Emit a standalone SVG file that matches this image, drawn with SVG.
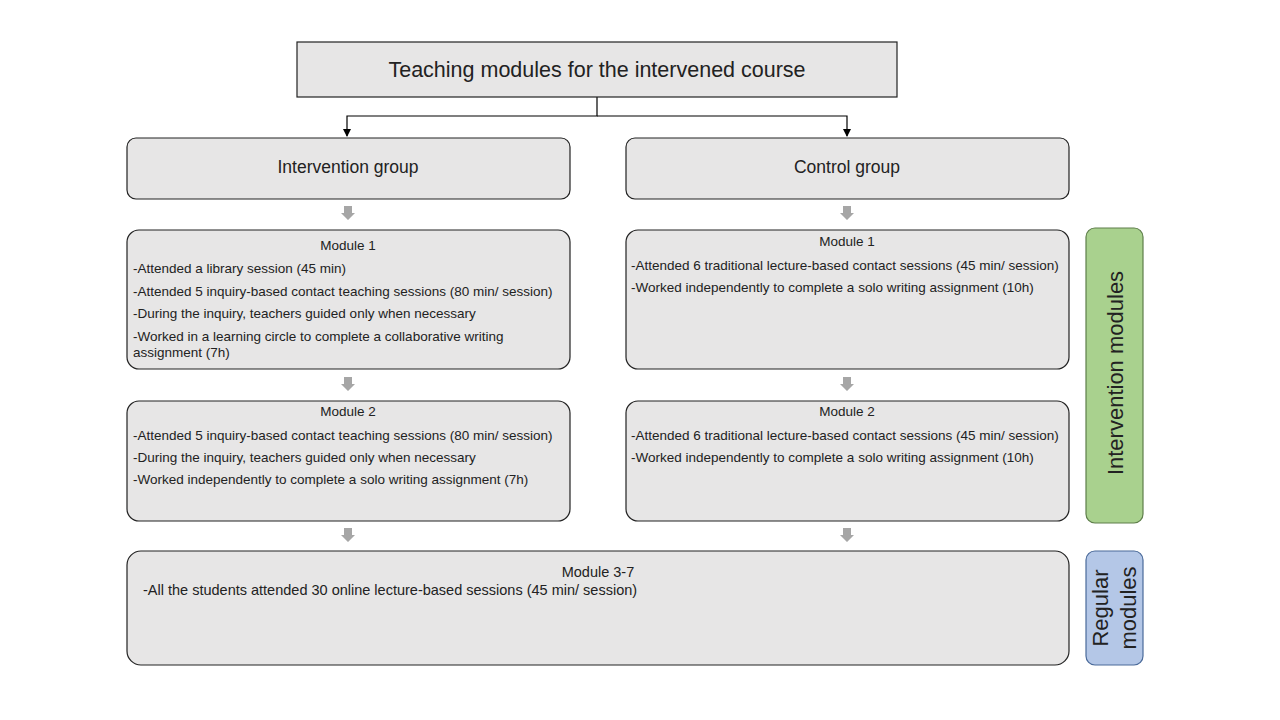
<svg xmlns="http://www.w3.org/2000/svg" width="1280" height="720" viewBox="0 0 1280 720">
<defs>
<style>
.box{fill:#e7e6e6;stroke:#222;stroke-width:1.2}
.t{font-family:"Liberation Sans",Arial,sans-serif;font-size:13.5px;fill:#222}
.tc{font-family:"Liberation Sans",Arial,sans-serif;font-size:13.5px;fill:#222;text-anchor:middle}
.hd{font-family:"Liberation Sans",Arial,sans-serif;font-size:17.5px;fill:#222;text-anchor:middle}
.blk{fill:#a6a6a6}
.conn{fill:none;stroke:#000;stroke-width:1.2}
.vt{font-family:"Liberation Sans",Arial,sans-serif;font-size:22px;fill:#222;text-anchor:middle}
</style>
<marker id="ah" markerWidth="8" markerHeight="8" refX="7" refY="4" orient="auto" markerUnits="userSpaceOnUse">
<path d="M0,0 L8,4 L0,8 Z" fill="#000"/>
</marker>
<path id="barrow" d="M-4,0 H4 V7 H7 L0,14 L-7,7 H-4 Z"/>
</defs>
<rect width="1280" height="720" fill="#fff"/>

<g id="connectors">
<path class="conn" d="M597,97 V116 H347 V136" marker-end="url(#ah)"/>
<path class="conn" d="M597,116 H847 V136" marker-end="url(#ah)"/>
<use href="#barrow" class="blk" x="348" y="206"/>
<use href="#barrow" class="blk" x="847" y="206"/>
<use href="#barrow" class="blk" x="348" y="377"/>
<use href="#barrow" class="blk" x="847" y="377"/>
<use href="#barrow" class="blk" x="348" y="528"/>
<use href="#barrow" class="blk" x="847" y="528"/>
</g>

<g id="title">
<rect x="297" y="42" width="600" height="55" fill="#e7e6e6" stroke="#222" stroke-width="1.2"/>
<text x="597" y="77" font-family="'Liberation Sans',Arial,sans-serif" font-size="21.5" fill="#222" text-anchor="middle">Teaching modules for the intervened course</text>
</g>

<g id="intervention-group">
<rect class="box" x="127" y="138" width="443" height="61" rx="9"/>
<text class="hd" x="348" y="173">Intervention group</text>
</g>

<g id="control-group">
<rect class="box" x="626" y="138" width="443" height="61" rx="9"/>
<text class="hd" x="847" y="173">Control group</text>
</g>

<g id="int-module1">
<rect class="box" x="127" y="230" width="443" height="139" rx="12"/>
<text class="tc" x="348" y="250">Module 1</text>
<text class="t" x="133" y="273">-Attended a library session (45 min)</text>
<text class="t" x="133" y="296">-Attended 5 inquiry-based contact teaching sessions (80 min/ session)</text>
<text class="t" x="133" y="318">-During the inquiry, teachers guided only when necessary</text>
<text class="t" x="133" y="341">-Worked in a learning circle to complete a collaborative writing</text>
<text class="t" x="133" y="357">assignment (7h)</text>
</g>

<g id="ctl-module1">
<rect class="box" x="626" y="230" width="443" height="139" rx="12"/>
<text class="tc" x="847" y="246">Module 1</text>
<text class="t" x="631" y="270">-Attended 6 traditional lecture-based contact sessions (45 min/ session)</text>
<text class="t" x="631" y="292">-Worked independently to complete a solo writing assignment (10h)</text>
</g>

<g id="int-module2">
<rect class="box" x="127" y="401" width="443" height="120" rx="12"/>
<text class="tc" x="348" y="416">Module 2</text>
<text class="t" x="133" y="440">-Attended 5 inquiry-based contact teaching sessions (80 min/ session)</text>
<text class="t" x="133" y="462">-During the inquiry, teachers guided only when necessary</text>
<text class="t" x="133" y="484">-Worked independently to complete a solo writing assignment (7h)</text>
</g>

<g id="ctl-module2">
<rect class="box" x="626" y="401" width="443" height="120" rx="12"/>
<text class="tc" x="847" y="416">Module 2</text>
<text class="t" x="631" y="440">-Attended 6 traditional lecture-based contact sessions (45 min/ session)</text>
<text class="t" x="631" y="462">-Worked independently to complete a solo writing assignment (10h)</text>
</g>

<g id="module3-7">
<rect class="box" x="127" y="551" width="942" height="114" rx="14"/>
<text x="598" y="577" font-family="'Liberation Sans',Arial,sans-serif" font-size="14.5" fill="#222" text-anchor="middle">Module 3-7</text>
<text x="143" y="595" font-family="'Liberation Sans',Arial,sans-serif" font-size="14.5" fill="#222">-All the students attended 30 online lecture-based sessions (45 min/ session)</text>
</g>

<g id="intervention-modules">
<rect x="1086" y="228" width="57" height="295" rx="9" fill="#a9d18e" stroke="#5e7e4a" stroke-width="1.2"/>
<text class="vt" transform="translate(1123,373) rotate(-90)">Intervention modules</text>
</g>

<g id="regular-modules">
<rect x="1086" y="551" width="57" height="114" rx="9" fill="#b4c7e7" stroke="#4a6a9a" stroke-width="1.2"/>
<text class="vt" transform="translate(1108,608) rotate(-90)">Regular</text>
<text class="vt" transform="translate(1136,608) rotate(-90)">modules</text>
</g>
</svg>
